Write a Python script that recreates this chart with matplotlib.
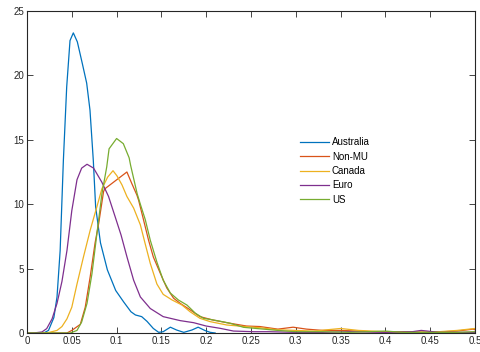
import numpy as np
import matplotlib.pyplot as plt

plt.rcParams['font.family'] = ['Liberation Sans', 'DejaVu Sans']

# density estimates
aus_x = [0.0, 0.0186, 0.024, 0.03, 0.0335, 0.037, 0.0406, 0.0443, 0.048, 0.0517, 0.0562, 0.0618,
         0.0666, 0.0703, 0.074, 0.0766, 0.082, 0.0897, 0.099, 0.108, 0.116, 0.121, 0.128, 0.134,
         0.141, 0.147, 0.152, 0.16, 0.167, 0.175, 0.184, 0.191, 0.199, 0.2045, 0.21]
aus_y = [0.0, 0.0, 0.2, 1.2, 2.8, 6.4, 13.4, 19.1, 22.7, 23.3, 22.6, 20.9,
         19.4, 17.3, 13.4, 9.8, 7.0, 4.9, 3.3, 2.4, 1.65, 1.4, 1.27, 0.9,
         0.35, 0.05, 0.1, 0.45, 0.23, 0.05, 0.23, 0.45, 0.18, 0.05, 0.0]

nonmu_x = [0.0, 0.0446, 0.05, 0.0595, 0.065, 0.0706, 0.076, 0.08, 0.0855, 0.087, 0.1115, 0.117,
           0.1227, 0.1246, 0.13, 0.1357, 0.141, 0.149, 0.156, 0.1636, 0.171, 0.182, 0.193, 0.208,
           0.227, 0.245, 0.26, 0.28, 0.297, 0.312, 0.33, 0.35, 0.37, 0.386, 0.42, 0.45, 0.48,
           0.498, 0.5]
nonmu_y = [0.0, 0.0, 0.2, 0.67, 2.0, 4.4, 7.0, 8.5, 11.0, 11.2, 12.5, 11.6,
           10.7, 10.3, 8.8, 7.2, 5.9, 4.6, 3.5, 2.7, 2.3, 1.8, 1.27, 1.0,
           0.75, 0.54, 0.5, 0.3, 0.45, 0.3, 0.2, 0.2, 0.15, 0.1, 0.1, 0.05, 0.15,
           0.3, 0.25]

can_x = [0.0, 0.022, 0.0335, 0.039, 0.0446, 0.05, 0.0558, 0.063, 0.0706, 0.078, 0.0836, 0.09,
         0.096, 0.1004, 0.106, 0.1115, 0.119, 0.1265, 0.132, 0.1376, 0.145, 0.152, 0.162, 0.173,
         0.182, 0.193, 0.2045, 0.223, 0.245, 0.26, 0.28, 0.3, 0.32, 0.35, 0.37, 0.4, 0.43, 0.46,
         0.48, 0.5]
can_y = [0.0, 0.0, 0.2, 0.5, 1.1, 2.0, 3.8, 5.9, 8.0, 9.8, 11.2, 12.1,
         12.6, 12.2, 11.5, 10.6, 9.7, 8.4, 6.9, 5.4, 3.8, 3.0, 2.56, 2.17,
         1.65, 1.14, 0.88, 0.62, 0.49, 0.41, 0.25, 0.2, 0.15, 0.35, 0.2, 0.1, 0.05, 0.1,
         0.2, 0.35]

euro_x = [0.0, 0.0074, 0.0167, 0.022, 0.028, 0.0335, 0.039, 0.0446, 0.05, 0.0558, 0.061, 0.067,
          0.0743, 0.0836, 0.091, 0.0985, 0.105, 0.1116, 0.119, 0.1265, 0.1376, 0.152, 0.171, 0.186,
          0.2, 0.2157, 0.2305, 0.253, 0.27, 0.3, 0.33, 0.36, 0.4, 0.43, 0.44, 0.46, 0.5]
euro_y = [0.0, 0.0, 0.08, 0.34, 1.1, 2.3, 4.0, 6.4, 9.5, 11.9, 12.8, 13.1,
          12.8, 11.7, 10.6, 9.0, 7.6, 5.9, 4.1, 2.8, 1.9, 1.27, 0.96, 0.8,
          0.54, 0.36, 0.15, 0.1, 0.1, 0.05, 0.05, 0.1, 0.05, 0.1, 0.2, 0.05, 0.05]

us_x = [0.0, 0.0483, 0.0558, 0.061, 0.067, 0.0725, 0.078, 0.0836, 0.089, 0.0916, 0.1, 0.1075,
        0.114, 0.1157, 0.123, 0.1265, 0.132, 0.1376, 0.145, 0.152, 0.16, 0.169, 0.1785, 0.188,
        0.197, 0.212, 0.227, 0.2417, 0.256, 0.28, 0.3, 0.33, 0.36, 0.4, 0.42, 0.45, 0.48, 0.5]
us_y = [0.0, 0.0, 0.2, 0.85, 2.3, 4.6, 7.7, 10.8, 12.9, 14.3, 15.1, 14.7,
        13.6, 13.0, 10.8, 10.0, 8.8, 7.2, 5.5, 4.1, 3.1, 2.56, 2.17, 1.53,
        1.14, 0.96, 0.75, 0.44, 0.35, 0.2, 0.1, 0.1, 0.05, 0.15, 0.05, 0.05, 0.05, 0.1]

names = ['Australia', 'Non-MU', 'Canada', 'Euro', 'US']
colors = ['#0072bd', '#d95319', '#edb120', '#7e2f8e', '#77ac30']
xs = [aus_x, nonmu_x, can_x, euro_x, us_x]
ys = [aus_y, nonmu_y, can_y, euro_y, us_y]

fig = plt.figure(figsize=(4.8, 3.52), dpi=100)
ax = fig.add_axes([0.05625, 0.054, 0.9333, 0.9148])

for x, y, c, n in zip(xs, ys, colors, names):
    ax.plot(x, y, color=c, lw=0.9, label=n)

ax.set_xlim(0, 0.5)
ax.set_ylim(0, 25)
ax.set_xticks(np.arange(0, 0.51, 0.05))
ax.set_xticklabels(['0', '0.05', '0.1', '0.15', '0.2', '0.25', '0.3', '0.35', '0.4', '0.45', '0.5'])
ax.set_yticks([0, 5, 10, 15, 20, 25])
ax.tick_params(direction='in', top=True, right=True, length=4, width=0.6,
               labelsize=7, colors='#262626', pad=2)
for s in ax.spines.values():
    s.set_linewidth(0.8)
    s.set_color('#262626')

ax.legend(loc='upper left', bbox_to_anchor=(0.6, 0.62), frameon=False, fontsize=7,
          handlelength=3.0, handletextpad=0.3, labelspacing=0.45, borderaxespad=0)

fig.savefig('out.png', dpi=100)
